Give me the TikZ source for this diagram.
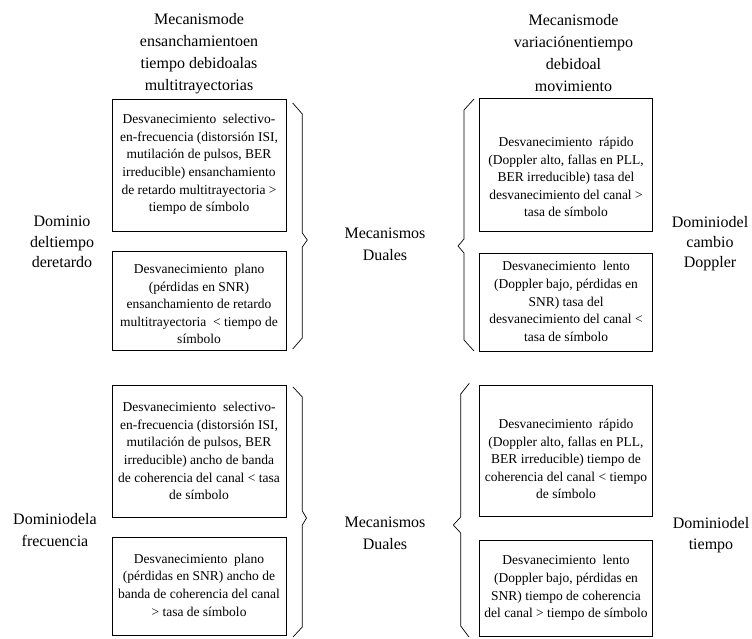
\documentclass[tikz,border=0pt]{standalone}
\usepackage{fontspec}
\setmainfont{Liberation Serif}
\begin{document}
\begin{tikzpicture}[x=1pt,y=-1pt,
  boxframe/.style={draw, line width=0.8pt, inner sep=0pt},
  boxtext/.style={align=center, inner sep=0pt, font=\fontsize{13.5}{17.6}\selectfont},
  heading/.style={align=center, inner sep=0pt, font=\fontsize{16}{22}\selectfont},
  sidelabel/.style={align=center, inner sep=0pt, font=\fontsize{16}{20.5}\selectfont},
  bracestyle/.style={draw, line width=0.7pt, line join=miter}]
\path[use as bounding box] (0,0) rectangle (752,638);

% headings
\node[heading] (hl) at (199,53.5) {Mecanismode\\ensanchamientoen\\tiempo debidoalas\\multitrayectorias};
\node[heading] (hr) at (573.5,53.5) {Mecanismode\\variaciónentiempo\\debidoal\\movimiento};

% side labels
\node[sidelabel] (dret) at (62,242) {Dominio\\deltiempo\\deretardo};
\node[heading] (mdt) at (385,244.5) {Mecanismos\\Duales};
\node[sidelabel, font=\fontsize{16}{20}\selectfont] (ddop) at (710,243.5) {Dominiodel\\cambio\\Doppler};
\node[heading] (dfrec) at (55,530) {Dominiodela\\frecuencia};
\node[heading] (mdb) at (385,533.5) {Mecanismos\\Duales};
\node[heading, font=\fontsize{16}{21}\selectfont] (dtiem) at (711,535) {Dominiodel\\tiempo};

% left boxes
\node[boxframe, minimum width=174pt, minimum height=132pt] (tl1) at (199,165.5) {};
\node[boxtext] (tl1t) at (199,164.5) {Desvanecimiento~ selectivo-\\en-frecuencia (distorsión ISI,\\mutilación de pulsos, BER\\irreducible) ensanchamiento\\de retardo multitrayectoria >\\tiempo de símbolo};
\node[boxframe, minimum width=174pt, minimum height=98.3pt] (tl2) at (199,300.9) {};
\node[boxtext] (tl2t) at (199,304) {Desvanecimiento~ plano\\(pérdidas en SNR)\\ensanchamiento de retardo\\multitrayectoria~ < tiempo de\\símbolo};
\node[boxframe, minimum width=174pt, minimum height=131.5pt] (bl1) at (199,451.3) {};
\node[boxtext] (bl1t) at (199,451) {Desvanecimiento~ selectivo-\\en-frecuencia (distorsión ISI,\\mutilación de pulsos, BER\\irreducible) ancho de banda\\de coherencia del canal < tasa\\de símbolo};
\node[boxframe, minimum width=174pt, minimum height=98.5pt] (bl2) at (199,586.3) {};
\node[boxtext] (bl2t) at (199,585) {Desvanecimiento~ plano\\(pérdidas en SNR) ancho de\\banda de coherencia del canal\\> tasa de símbolo};

% right boxes
\node[boxframe, minimum width=173pt, minimum height=132.5pt] (tr1) at (566,164.8) {};
\node[boxtext] (tr1t) at (566,177) {Desvanecimiento~ rápido\\(Doppler alto, fallas en PLL,\\BER irreducible) tasa del\\desvanecimiento del canal >\\tasa de símbolo};
\node[boxframe, minimum width=173pt, minimum height=98.4pt] (tr2) at (566,302.5) {};
\node[boxtext] (tr2t) at (566,301.5) {Desvanecimiento~ lento\\(Doppler bajo, pérdidas en\\SNR) tasa del\\desvanecimiento del canal <\\tasa de símbolo};
\node[boxframe, minimum width=173pt, minimum height=131pt] (br1) at (566,451.2) {};
\node[boxtext] (br1t) at (566,459) {Desvanecimiento~ rápido\\(Doppler alto, fallas en PLL,\\BER irreducible) tiempo de\\coherencia del canal < tiempo\\de símbolo};
\node[boxframe, minimum width=173pt, minimum height=96pt] (br2) at (566,588) {};
\node[boxtext] (br2t) at (566,588) {Desvanecimiento~ lento\\(Doppler bajo, pérdidas en\\SNR) tiempo de coherencia\\del canal > tiempo de símbolo};

% braces
\draw[bracestyle] (292.7,103) -- (302.3,114) -- (302.3,233) -- (307.3,240) -- (302.3,247) -- (302.3,338) -- (292.7,349);
\draw[bracestyle] (293,387) -- (302.3,397) -- (302.3,511) -- (306.5,518) -- (302.3,525) -- (302.3,627) -- (293,637);
\draw[bracestyle] (474,99) -- (464,110) -- (464,239) -- (458,246) -- (464,253) -- (464,340) -- (474,351);
\draw[bracestyle] (469.3,383.3) -- (460.7,394) -- (460.7,517) -- (453.3,525) -- (460.7,533) -- (460.7,626) -- (469,637);
\end{tikzpicture}
\end{document}
